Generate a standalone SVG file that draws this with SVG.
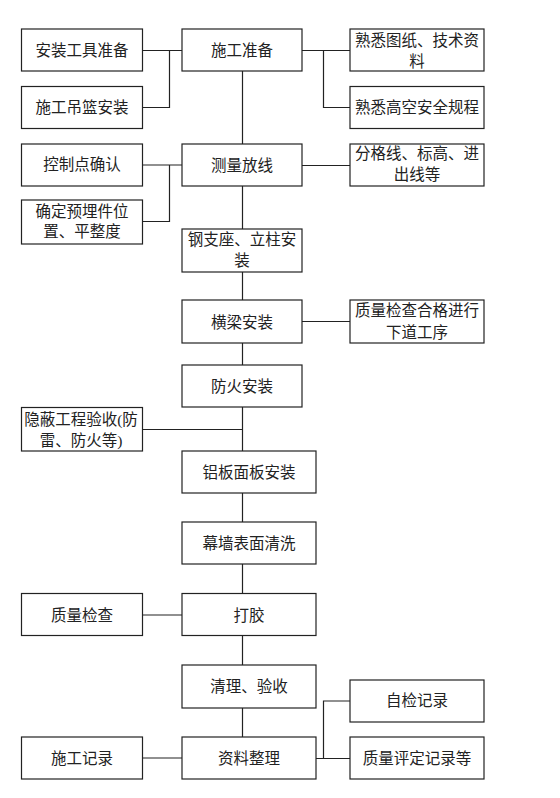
<svg xmlns="http://www.w3.org/2000/svg" width="560" height="798" viewBox="0 0 560 798">
<style>
rect{fill:#fff;stroke:#222;stroke-width:1.2}
.c path{fill:none;stroke:#222;stroke-width:1.2}
text{font-family:"Liberation Serif","Noto Sans CJK SC",serif;font-size:15.5px;fill:#222;text-anchor:middle}
</style>
<rect x="0" y="0" width="560" height="798" style="stroke:none"/>
<g class="c" id="connectors">
<path d="M242.5,71V144M242.5,186V229M242.5,272V300M242.5,343V365M242.5,407V451M242.5,493V522M242.5,564V593M242.5,636V665M242.5,708V737"/>
<path d="M142.5,50.5H182M169.5,50.5V107.5H142.5"/>
<path d="M302,50.5H350M323.5,50.5V107.5H350"/>
<path d="M142.5,165H182M169.5,165V221.5H142.5"/>
<path d="M302,165.5H350"/>
<path d="M302,321.5H350"/>
<path d="M142.5,429.5H242.5"/>
<path d="M142.5,615H182"/>
<path d="M142.5,758H182"/>
<path d="M316,758.5H350M323.5,758.5V701H350"/>
</g>
<g id="n1"><rect x="21.5" y="29" width="121" height="42"/><text x="82" y="56">安装工具准备</text></g>
<g id="n2"><rect x="21.5" y="86.5" width="121" height="42"/><text x="82" y="113">施工吊篮安装</text></g>
<g id="n3"><rect x="182" y="29" width="120" height="42"/><text x="242" y="56">施工准备</text></g>
<g id="n4"><rect x="350" y="29" width="134" height="42"/><text x="417" y="46">熟悉图纸、技术资</text><text x="417" y="67">料</text></g>
<g id="n5"><rect x="350" y="86.5" width="134" height="42"/><text x="417" y="113">熟悉高空安全规程</text></g>
<g id="n6"><rect x="21.5" y="144" width="121" height="42"/><text x="82" y="170">控制点确认</text></g>
<g id="n7"><rect x="182" y="144" width="120" height="42"/><text x="242" y="171">测量放线</text></g>
<g id="n8"><rect x="350" y="144" width="134" height="42"/><text x="417" y="159">分格线、标高、进</text><text x="417" y="180">出线等</text></g>
<g id="n9"><rect x="21.5" y="200" width="121" height="44"/><text x="82" y="216.5">确定预埋件位</text><text x="82" y="236.5">置、平整度</text></g>
<g id="n10"><rect x="182" y="229" width="120" height="43"/><text x="242" y="245">钢支座、立柱安</text><text x="242" y="266">装</text></g>
<g id="n11"><rect x="182" y="300" width="120" height="43"/><text x="242" y="327.5">横梁安装</text></g>
<g id="n12"><rect x="350" y="300" width="134" height="43"/><text x="417" y="316">质量检查合格进行</text><text x="417" y="337.5">下道工序</text></g>
<g id="n13"><rect x="182" y="365" width="120" height="42"/><text x="242" y="392">防火安装</text></g>
<g id="n14"><rect x="21.5" y="407.5" width="121" height="43.5"/><text x="81" y="425">隐蔽工程验收(防</text><text x="81" y="446">雷、防火等)</text></g>
<g id="n15"><rect x="182" y="451" width="134" height="42"/><text x="249" y="477.5">铝板面板安装</text></g>
<g id="n16"><rect x="182" y="522" width="134" height="42"/><text x="249" y="548.5">幕墙表面清洗</text></g>
<g id="n17"><rect x="21.5" y="593.5" width="121" height="42"/><text x="82" y="621">质量检查</text></g>
<g id="n18"><rect x="182" y="593.5" width="134" height="42"/><text x="249" y="621">打胶</text></g>
<g id="n19"><rect x="182" y="665" width="134" height="43"/><text x="249" y="692">清理、验收</text></g>
<g id="n20"><rect x="350" y="680" width="134" height="42"/><text x="417" y="706">自检记录</text></g>
<g id="n21"><rect x="21.5" y="737" width="121" height="42"/><text x="82" y="764">施工记录</text></g>
<g id="n22"><rect x="182" y="737" width="134" height="42"/><text x="249" y="764">资料整理</text></g>
<g id="n23"><rect x="350" y="737" width="134" height="42"/><text x="417" y="764">质量评定记录等</text></g>
</svg>
